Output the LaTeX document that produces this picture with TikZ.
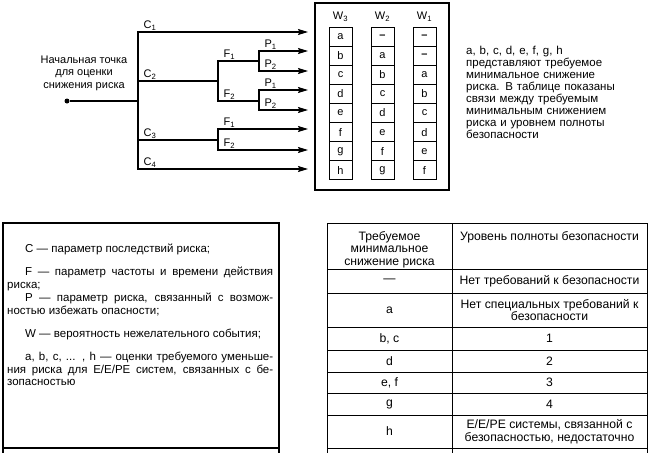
\documentclass[tikz,border=0pt]{standalone}
\usepackage{fontspec}
\setmainfont{Liberation Sans}
\usetikzlibrary{arrows.meta, positioning}
\tikzset{
  >=Stealth,
  flowarrow/.style={-{Stealth[length=10pt, width=6pt, inset=1.5pt]}, line width=1.2pt},
  branch/.style={line width=1.2pt},
  gridline/.style={line width=0.8pt},
  boxline/.style={line width=1.3pt}
}

\begin{document}
\begin{tikzpicture}[x=1pt, y=-1pt, font=\fontsize{11pt}{12.4pt}\selectfont,
    cell/.style={draw, line width=1pt, minimum width=23pt, minimum height=19.1pt, inner sep=0pt, outer sep=0pt},
    lbl/.style={above right, inner sep=1pt, xshift=4pt},
    tabtext/.style={align=center, inner sep=0pt, font=\fontsize{12.2pt}{12.8pt}\selectfont}]
    \useasboundingbox (0,0) rectangle (650,453);
    % Начальная точка
    \node (root) [circle, fill, inner sep=0pt, minimum size=5pt] at (67,101) {};
    \node (rootlbl) [align=center] at (84,73) {Начальная точка\\для оценки\\снижения риска};
    % Точки ветвления
    \coordinate (trunk) at (138,101);
    \coordinate (c2) at (138,81);
    \coordinate (c3) at (138,140);
    \coordinate (f2) at (218,81);
    \coordinate (f3) at (218,140);
    \coordinate (p21) at (259,61);
    \coordinate (p22) at (259,101);
    % Концы стрелок
    \coordinate (t1) at (308,32);
    \coordinate (t2) at (308,51);
    \coordinate (t3) at (308,71);
    \coordinate (t4) at (308,90);
    \coordinate (t5) at (308,110);
    \coordinate (t6) at (308,129);
    \coordinate (t7) at (308,150);
    \coordinate (t8) at (308,169);
    % Ветви C
    \draw[branch] (root) -- (trunk);
    \draw[flowarrow] (trunk) |- (t1) node[lbl, pos=0.5] {C\textsubscript{1}};
    \draw[branch] (c2) -- (f2) node[lbl, pos=0] {C\textsubscript{2}};
    \draw[branch] (c3) -- (f3) node[lbl, pos=0] {C\textsubscript{3}};
    \draw[flowarrow] (trunk) |- (t8) node[lbl, pos=0.5] {C\textsubscript{4}};
    % Ветви F
    \draw[branch] (f2) |- (p21) node[lbl, pos=0.5] {F\textsubscript{1}};
    \draw[branch] (f2) |- (p22) node[lbl, pos=0.5] {F\textsubscript{2}};
    \draw[flowarrow] (f3) |- (t6) node[lbl, pos=0.5] {F\textsubscript{1}};
    \draw[flowarrow] (f3) |- (t7) node[lbl, pos=0.5] {F\textsubscript{2}};
    % Ветви P
    \draw[flowarrow] (p21) |- (t2) node[lbl, pos=0.5] {P\textsubscript{1}};
    \draw[flowarrow] (p21) |- (t3) node[lbl, pos=0.5] {P\textsubscript{2}};
    \draw[flowarrow] (p22) |- (t4) node[lbl, pos=0.5] {P\textsubscript{1}};
    \draw[flowarrow] (p22) |- (t5) node[lbl, pos=0.5] {P\textsubscript{2}};
    % Рамка столбцов W
    \draw[boxline] (315,3) rectangle (449,190);
    % Столбец W3
    \node (w3r1) [cell] at (340.5,36.6) {a};
    \node (w3r2) [cell, below=0pt of w3r1] {b};
    \node (w3r3) [cell, below=0pt of w3r2] {c};
    \node (w3r4) [cell, below=0pt of w3r3] {d};
    \node (w3r5) [cell, below=0pt of w3r4] {e};
    \node (w3r6) [cell, below=0pt of w3r5] {f};
    \node (w3r7) [cell, below=0pt of w3r6] {g};
    \node (w3r8) [cell, below=0pt of w3r7] {h};
    % Столбец W2
    \node (w2r1) [cell, right=19pt of w3r1] {\textbf{–}};
    \node (w2r2) [cell, below=0pt of w2r1] {a};
    \node (w2r3) [cell, below=0pt of w2r2] {b};
    \node (w2r4) [cell, below=0pt of w2r3] {c};
    \node (w2r5) [cell, below=0pt of w2r4] {d};
    \node (w2r6) [cell, below=0pt of w2r5] {e};
    \node (w2r7) [cell, below=0pt of w2r6] {f};
    \node (w2r8) [cell, below=0pt of w2r7] {g};
    % Столбец W1
    \node (w1r1) [cell, right=19pt of w2r1] {\textbf{–}};
    \node (w1r2) [cell, below=0pt of w1r1] {\textbf{–}};
    \node (w1r3) [cell, below=0pt of w1r2] {a};
    \node (w1r4) [cell, below=0pt of w1r3] {b};
    \node (w1r5) [cell, below=0pt of w1r4] {c};
    \node (w1r6) [cell, below=0pt of w1r5] {d};
    \node (w1r7) [cell, below=0pt of w1r6] {e};
    \node (w1r8) [cell, below=0pt of w1r7] {f};
    % Заголовки W
    \node (w3head) [above=2pt of w3r1] {W\textsubscript{3}};
    \node (w2head) [above=2pt of w2r1] {W\textsubscript{2}};
    \node (w1head) [above=2pt of w1r1] {W\textsubscript{1}};
    % Пояснение справа
    \node (note) [anchor=north west, text width=180pt, align=left, inner sep=0pt,
        font=\fontsize{11.5pt}{12pt}\selectfont] at (466,46)
      {a, b, c, d, e, f, g, h\\представляют требуемое\\минимальное снижение\\риска. В таблице показаны\\связи между требуемым\\минимальным снижением\\риска и уровнем полноты\\безопасности};
    % Легенда
    \draw[boxline] (3,223) rectangle (279,448);
    \draw[boxline] (3,448) -- (3,453);
    \draw[boxline] (279,448) -- (279,453);
    \node (legend) [anchor=north west, text width=266pt, align=justify, inner sep=0pt,
        font=\fontsize{11.5pt}{12.9pt}\selectfont] at (7,244)
      {\parindent=0pt
       \hspace*{18pt}C — параметр последствий риска;\par\vspace{10pt}
       \hspace*{18pt}F — параметр частоты и времени действия\linebreak риска;\par
       \hspace*{18pt}P — параметр риска, связанный с возмож-\linebreak ностью избежать опасности;\par\vspace{10pt}
       \hspace*{18pt}W — вероятность нежелательного события;\par\vspace{10pt}
       \hspace*{18pt}a, b, c, ... , h — оценки требуемого уменьше-\linebreak ния риска для E/E/PE систем, связанных с бе-\linebreak зопасностью};
    % Таблица
    \draw[gridline] (327,223) rectangle (647,448);
    \draw[gridline] (452,223) -- (452,453);
    \draw[gridline] (327,448) -- (327,453);
    \draw[gridline] (647,448) -- (647,453);
    \draw[gridline] (327,269) -- (647,269);
    \draw[gridline] (327,293) -- (647,293);
    \draw[gridline] (327,327) -- (647,327);
    \draw[gridline] (327,350) -- (647,350);
    \draw[gridline] (327,372) -- (647,372);
    \draw[gridline] (327,393) -- (647,393);
    \draw[gridline] (327,415) -- (647,415);
    \node (head1) [tabtext, anchor=north] at (389.5,231) {Требуемое\\минимальное\\снижение риска};
    \node (head2) [tabtext, anchor=north] at (549.5,231) {Уровень полноты безопасности};
    \node (r1a) [tabtext] at (389.5,281) {—};
    \node (r1b) [tabtext] at (549.5,281) {Нет требований к безопасности};
    \node (r2a) [tabtext] at (389.5,310) {a};
    \node (r2b) [tabtext] at (549.5,310) {Нет специальных требований к\\безопасности};
    \node (r3a) [tabtext] at (389.5,338.5) {b, c};
    \node (r3b) [tabtext] at (549.5,338.5) {1};
    \node (r4a) [tabtext] at (389.5,361) {d};
    \node (r4b) [tabtext] at (549.5,361) {2};
    \node (r5a) [tabtext] at (389.5,382.5) {e, f};
    \node (r5b) [tabtext] at (549.5,382.5) {3};
    \node (r6a) [tabtext] at (389.5,404) {g};
    \node (r6b) [tabtext] at (549.5,404) {4};
    \node (r7a) [tabtext] at (389.5,431.5) {h};
    \node (r7b) [tabtext] at (549.5,431.5) {E/E/PE системы, связанной с\\безопасностью, недостаточно};
\end{tikzpicture}
\end{document}
